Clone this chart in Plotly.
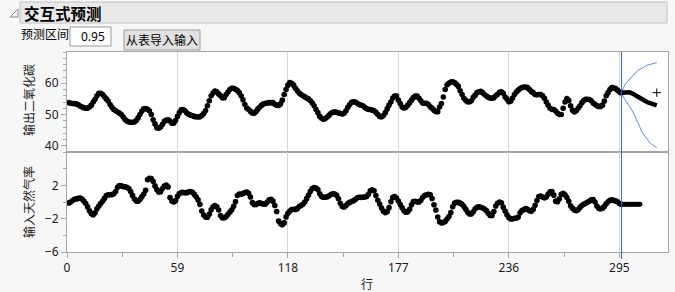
import plotly.graph_objects as go
from plotly.subplots import make_subplots

# ---------------- data ----------------
gas_rate = [
    -0.109, 0.000, 0.178, 0.339, 0.373, 0.441, 0.461, 0.348, 0.127, -0.180,
    -0.588, -1.055, -1.421, -1.520, -1.302, -0.814, -0.475, -0.193, 0.088, 0.435,
    0.771, 0.866, 0.875, 0.891, 0.987, 1.263, 1.775, 1.976, 1.934, 1.866,
    1.832, 1.767, 1.608, 1.265, 0.790, 0.360, 0.115, 0.088, 0.331, 0.645,
    0.960, 1.409, 2.670, 2.834, 2.812, 2.483, 1.929, 1.485, 1.214, 1.239,
    1.608, 1.905, 2.023, 1.815, 0.535, 0.122, 0.009, 0.164, 0.671, 1.019,
    1.146, 1.155, 1.112, 1.121, 1.223, 1.257, 1.157, 0.913, 0.620, 0.255,
    -0.280, -1.080, -1.551, -1.799, -1.825, -1.456, -0.944, -0.570, -0.431, -0.577,
    -0.960, -1.616, -1.875, -1.891, -1.746, -1.474, -1.201, -0.927, -0.524, 0.040,
    0.788, 0.943, 0.930, 1.006, 1.137, 1.198, 1.054, 0.595, -0.080, -0.314,
    -0.288, -0.153, -0.109, -0.187, -0.255, -0.229, -0.007, 0.254, 0.330, 0.102,
    -0.423, -1.139, -2.275, -2.594, -2.716, -2.510, -1.790, -1.346, -1.081, -0.910,
    -0.876, -0.885, -0.800, -0.544, -0.416, -0.271, 0.000, 0.403, 0.841, 1.285,
    1.607, 1.746, 1.683, 1.485, 0.993, 0.648, 0.577, 0.577, 0.632, 0.747,
    0.900, 0.993, 0.968, 0.790, 0.399, -0.161, -0.553, -0.603, -0.424, -0.194,
    -0.049, 0.060, 0.161, 0.301, 0.517, 0.566, 0.560, 0.573, 0.592, 0.671,
    0.933, 1.337, 1.460, 1.353, 0.772, 0.218, -0.237, -0.714, -1.099, -1.269,
    -1.175, -0.676, 0.033, 0.556, 0.643, 0.484, 0.109, -0.310, -0.697, -1.047,
    -1.218, -1.183, -0.873, -0.336, 0.063, 0.084, 0.000, 0.001, 0.209, 0.556,
    0.782, 0.858, 0.918, 0.862, 0.416, -0.336, -0.959, -1.813, -2.378, -2.499,
    -2.473, -2.330, -2.053, -1.739, -1.261, -0.569, -0.137, -0.024, -0.050, -0.135,
    -0.276, -0.534, -0.871, -1.243, -1.439, -1.422, -1.175, -0.813, -0.634, -0.582,
    -0.625, -0.713, -0.848, -1.039, -1.346, -1.628, -1.619, -1.149, -0.488, -0.160,
    -0.007, -0.092, -0.620, -1.086, -1.525, -1.858, -2.029, -2.024, -1.961, -1.952,
    -1.794, -1.302, -1.030, -0.918, -0.798, -0.867, -1.047, -1.123, -0.876, -0.395,
    0.185, 0.662, 0.709, 0.605, 0.501, 0.603, 0.943, 1.223, 1.249, 0.824,
    0.102, 0.025, 0.382, 0.922, 1.032, 0.866, 0.527, 0.093, -0.458, -0.748,
    -0.947, -1.029, -0.928, -0.645, -0.424, -0.276, -0.158, -0.033, 0.102, 0.251,
    0.280, 0.000, -0.493, -0.759, -0.824, -0.740, -0.528, -0.204, 0.034, 0.204,
    0.253, 0.195, 0.131, 0.017, -0.182, -0.262,
]

co2 = [
    53.8, 53.6, 53.5, 53.5, 53.4, 53.1, 52.7, 52.4, 52.2, 52.0,
    52.0, 52.4, 53.0, 54.0, 54.9, 56.0, 56.8, 56.8, 56.4, 55.7,
    55.0, 54.3, 53.2, 52.3, 51.6, 51.2, 50.8, 50.5, 50.0, 49.2,
    48.4, 47.9, 47.6, 47.5, 47.5, 47.6, 48.1, 49.0, 50.0, 51.1,
    51.8, 51.9, 51.7, 51.2, 50.0, 48.3, 47.0, 45.8, 45.6, 46.0,
    46.9, 47.8, 48.2, 48.3, 47.9, 47.2, 47.2, 48.1, 49.4, 50.6,
    51.5, 51.6, 51.2, 50.5, 50.1, 49.8, 49.6, 49.4, 49.3, 49.2,
    49.3, 49.7, 50.3, 51.3, 52.8, 54.4, 56.0, 56.9, 57.5, 57.3,
    56.6, 56.0, 55.4, 55.4, 56.4, 57.2, 58.0, 58.4, 58.4, 58.1,
    57.7, 57.0, 56.0, 54.7, 53.2, 52.1, 51.6, 51.0, 50.5, 50.4,
    51.0, 51.8, 52.4, 53.0, 53.4, 53.6, 53.7, 53.8, 53.8, 53.8,
    53.3, 53.0, 52.9, 53.4, 54.6, 56.4, 58.0, 59.4, 60.2, 60.0,
    59.4, 58.4, 57.6, 56.9, 56.4, 56.0, 55.7, 55.3, 55.0, 54.4,
    53.7, 52.8, 51.6, 50.6, 49.4, 48.8, 48.5, 48.7, 49.2, 49.8,
    50.4, 50.7, 50.9, 50.7, 50.5, 50.4, 50.2, 50.4, 51.2, 52.3,
    53.2, 53.9, 54.1, 54.0, 53.6, 53.2, 53.0, 52.8, 52.3, 51.9,
    51.6, 51.6, 51.4, 51.2, 50.7, 50.0, 49.4, 49.3, 49.7, 50.6,
    51.8, 53.0, 54.0, 55.3, 55.9, 55.9, 54.6, 53.5, 52.4, 52.1,
    52.3, 53.0, 53.8, 54.6, 55.4, 55.9, 55.9, 55.2, 54.4, 53.7,
    53.6, 53.6, 53.2, 52.5, 52.0, 51.4, 51.0, 50.9, 52.4, 53.5,
    55.6, 58.0, 59.5, 60.0, 60.4, 60.5, 60.2, 59.7, 59.0, 57.6,
    56.4, 55.2, 54.5, 54.1, 54.1, 54.4, 55.5, 56.2, 57.0, 57.3,
    57.4, 57.0, 56.4, 55.9, 55.5, 55.3, 55.2, 55.4, 56.0, 56.5,
    57.1, 57.3, 56.8, 55.6, 55.0, 54.1, 54.3, 55.3, 56.4, 57.2,
    57.8, 58.3, 58.6, 58.8, 58.8, 58.6, 58.0, 57.4, 57.0, 56.4,
    56.3, 56.4, 56.4, 56.0, 55.2, 54.0, 53.0, 52.0, 51.6, 51.6,
    51.1, 50.4, 50.0, 50.0, 52.0, 54.0, 55.1, 54.5, 52.8, 51.4,
    50.8, 51.2, 52.0, 52.8, 53.8, 54.5, 54.9, 54.9, 54.8, 54.4,
    53.7, 53.3, 52.8, 52.6, 52.6, 53.0, 54.3, 56.0, 57.0, 58.0,
    58.6, 58.5, 58.3, 57.8, 57.3, 57.0,
]

rows = list(range(1, len(co2) + 1))

# forecast (rows 296..315)
fc_rows = list(range(296, 316))
fc_mean = [57.0, 57.1, 57.2, 57.2, 57.1, 57.0, 56.8, 56.4, 56.0, 55.6,
           55.2, 54.8, 54.5, 54.2, 53.9, 53.7, 53.5, 53.3, 53.1, 52.9]
fc_upper = [57.0, 58.5, 59.5, 60.3, 61.0, 61.7, 62.4, 63.0, 63.6, 64.1,
            64.5, 64.9, 65.2, 65.5, 65.8, 66.0, 66.2, 66.4, 66.5, 66.6]
fc_lower = [57.0, 55.6, 54.7, 53.9, 53.1, 52.2, 51.2, 49.9, 48.5, 47.1,
            45.8, 44.6, 43.6, 42.7, 41.9, 41.2, 40.6, 40.1, 39.7, 39.4]

# future input (rows 296..306)
fin_rows = list(range(296, 307))
fin_vals = [-0.262] * len(fin_rows)

handle_pt = (315, 57.0)
origin_row = 296.2

x_ticks = [0, 59, 118, 177, 236, 295]
y1_ticks = [40, 50, 60]
y2_ticks = [-6, -2, 2]

# ---------------- layout helpers ----------------
FW, FH = 675, 292
L, R, T, B = 67, 668, 52, 252
W, H = R - L, B - T


def px(x):
    return (x - L) / W


def py(y):
    return (B - y) / H


CJK = "Noto Sans CJK SC"
NUM = "Noto Sans"
FRAME = "#a6a6a6"
GRID = "#d6d6d6"

fig = make_subplots(rows=2, cols=1, shared_xaxes=True, vertical_spacing=0)

fig.add_trace(go.Scatter(x=rows, y=co2, mode="markers",
                         marker=dict(color="black", size=5.6),
                         hoverinfo="skip", showlegend=False), row=1, col=1)
fig.add_trace(go.Scatter(x=fc_rows, y=fc_upper, mode="lines",
                         line=dict(color="#5b8cf2", width=1),
                         showlegend=False), row=1, col=1)
fig.add_trace(go.Scatter(x=fc_rows, y=fc_lower, mode="lines",
                         line=dict(color="#5b8cf2", width=1),
                         showlegend=False), row=1, col=1)
fig.add_trace(go.Scatter(x=fc_rows, y=fc_mean, mode="lines",
                         line=dict(color="black", width=4.5),
                         showlegend=False), row=1, col=1)
fig.add_trace(go.Scatter(x=[handle_pt[0]], y=[handle_pt[1]], mode="markers",
                         marker=dict(symbol="cross-thin", size=6,
                                     line=dict(color="black", width=1)),
                         showlegend=False), row=1, col=1)

fig.add_trace(go.Scatter(x=rows, y=gas_rate, mode="markers",
                         marker=dict(color="black", size=5.6),
                         showlegend=False), row=2, col=1)
fig.add_trace(go.Scatter(x=fin_rows, y=fin_vals, mode="lines+markers",
                         line=dict(color="black", width=4),
                         marker=dict(color="black", size=5),
                         showlegend=False), row=2, col=1)

tickfont = dict(family=NUM, size=12, color="#1a1a1a")

common_x = dict(range=[0, 321], showline=True, mirror=True, linecolor=FRAME,
                linewidth=1, showgrid=True, gridcolor=GRID, gridwidth=1,
                tickmode="array", tickvals=x_ticks, zeroline=False)
fig.update_xaxes(**common_x)
fig.update_xaxes(showticklabels=False, ticks="", row=1, col=1)
fig.update_xaxes(showticklabels=True, ticks="outside", ticklen=5,
                 tickcolor=FRAME, tickfont=tickfont,
                 minor=dict(ticks="outside", ticklen=4, tickcolor=FRAME,
                            tick0=29.5, dtick=59, showgrid=False),
                 row=2, col=1)

common_y = dict(showline=True, mirror=True, linecolor=FRAME, linewidth=1,
                showgrid=False, zeroline=False, ticks="outside", ticklen=5,
                tickcolor=FRAME, tickfont=tickfont, tickmode="array")
fig.update_yaxes(**common_y)
fig.update_yaxes(range=[38, 70], tickvals=y1_ticks,
                 minor=dict(ticks="outside", ticklen=3, tickcolor=FRAME,
                            tick0=0, dtick=2, showgrid=False),
                 row=1, col=1)
fig.update_yaxes(range=[-6, 6], tickvals=y2_ticks,
                 minor=dict(ticks="outside", ticklen=3, tickcolor=FRAME,
                            tick0=0, dtick=2, showgrid=False),
                 row=2, col=1)

shapes = [
    # header bar
    dict(type="rect", xref="paper", yref="paper",
         x0=px(20), x1=px(667), y0=py(2), y1=py(23),
         fillcolor="#e9e9e9", line=dict(color="#c2c2c2", width=1), layer="below"),
    # disclosure triangle
    dict(type="path", xref="paper", yref="paper",
         path=f"M {px(10)} {py(17)} L {px(18)} {py(17)} L {px(18)} {py(9)} Z",
         line=dict(color="#8a8a8a", width=1), fillcolor="rgba(0,0,0,0)"),
    # input box
    dict(type="rect", xref="paper", yref="paper",
         x0=px(70), x1=px(111), y0=py(27), y1=py(46),
         fillcolor="white", line=dict(color="#9a9a9a", width=1)),
    # button
    dict(type="rect", xref="paper", yref="paper",
         x0=px(124), x1=px(200), y0=py(30), y1=py(50),
         fillcolor="#e1e1e1", line=dict(color="#9c9c9c", width=1)),
    # forecast origin line
    dict(type="line", xref="x", yref="paper", x0=origin_row, x1=origin_row,
         y0=py(259), y1=1, line=dict(color="#2f63d8", width=1)),
]

annotations = [
    dict(text="<b>交互式预测</b>", x=px(22), y=py(12.5), xref="paper", yref="paper",
         xanchor="left", yanchor="middle", showarrow=False,
         font=dict(family=CJK, size=15.5, color="black")),
    dict(text="预测区间", x=px(19), y=py(34), xref="paper", yref="paper",
         xanchor="left", yanchor="middle", showarrow=False,
         font=dict(family=CJK, size=12, color="black")),
    dict(text="0.95", x=px(107), y=py(36.5), xref="paper", yref="paper",
         xanchor="right", yanchor="middle", showarrow=False,
         font=dict(family=NUM, size=12, color="black")),
    dict(text="从表导入输入", x=px(162), y=py(40), xref="paper", yref="paper",
         xanchor="center", yanchor="middle", showarrow=False,
         font=dict(family=CJK, size=12, color="black")),
    dict(text="输出二氧化碳", x=px(28), y=py(100), xref="paper", yref="paper",
         xanchor="center", yanchor="middle", showarrow=False, textangle=-90,
         font=dict(family=CJK, size=12, color="#222")),
    dict(text="输入天然气率", x=px(28), y=py(202), xref="paper", yref="paper",
         xanchor="center", yanchor="middle", showarrow=False, textangle=-90,
         font=dict(family=CJK, size=12, color="#222")),
    dict(text="行", x=px(367), y=py(283), xref="paper", yref="paper",
         xanchor="center", yanchor="middle", showarrow=False,
         font=dict(family=CJK, size=12, color="#222")),
]

fig.update_layout(
    width=FW, height=FH,
    margin=dict(l=L, r=FW - R, t=T, b=FH - B, pad=0),
    paper_bgcolor="#f7f7f7", plot_bgcolor="white",
    shapes=shapes, annotations=annotations,
    showlegend=False,
)

fig.write_html("out.html")
